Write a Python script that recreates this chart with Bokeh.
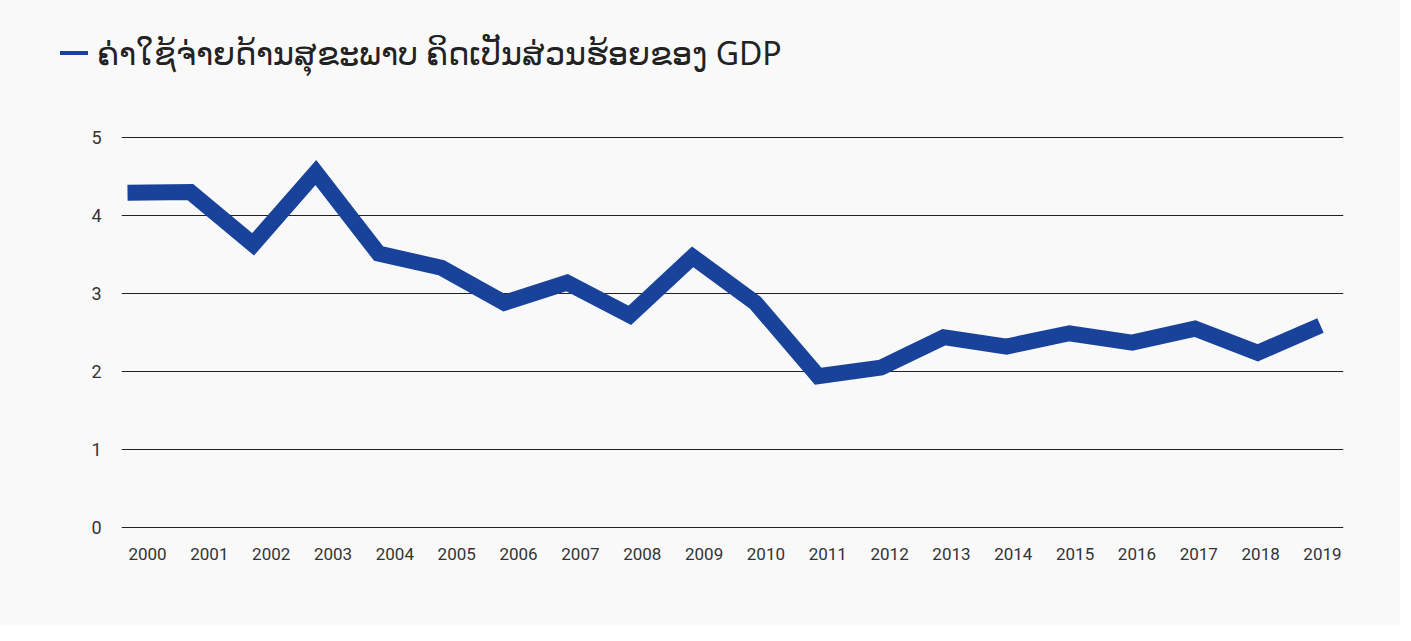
from bokeh.plotting import figure
from bokeh.models import Range1d, LinearAxis, FixedTicker, Div
from bokeh.layouts import column
from bokeh.embed import file_html
from bokeh.resources import INLINE

years = list(range(2000, 2020))
values = [4.29, 4.30, 3.63, 4.55, 3.51, 3.33, 2.88, 3.14, 2.72, 3.47,
          2.88, 1.94, 2.05, 2.44, 2.32, 2.49, 2.37, 2.55, 2.24, 2.59]
y_ticks = [0, 1, 2, 3, 4, 5]
title_text = "ຄ່າໃຊ້ຈ່າຍດ້ານສຸຂະພາບ ຄິດເປັນສ່ວນຮ້ອຍຂອງ GDP"

BLUE = "#19439a"
BG = "#f9f9f9"
HEAD_H = 100
W = 1400

fw = 1221.0
sp_line = (1320 - 128) / 19.0
x0_line = 2000 - (128 - 122) / sp_line
x1_line = x0_line + fw / sp_line
sp_lbl = (1322 - 148) / 19.0
x0_lbl = 2000 - (148 - 122) / sp_lbl
x1_lbl = x0_lbl + fw / sp_lbl

head = Div(
    text=('<div style="white-space:nowrap;line-height:1;">'
          '<span style="display:inline-block;width:28px;height:4px;background:%s;'
          'vertical-align:middle;margin-right:9px;"></span>'
          '<span style="font-family:\'Noto Sans\';font-size:32px;color:#222222;'
          'vertical-align:middle;">%s</span></div>') % (BLUE, title_text),
    width=W, height=HEAD_H, margin=0,
    styles={"background-color": BG, "padding": "37px 0 0 60px", "box-sizing": "border-box"},
)

p = figure(width=W, height=625 - HEAD_H, output_backend="svg", toolbar_location=None,
           x_range=Range1d(x0_line, x1_line), y_range=Range1d(-0.05, 5.05),
           x_axis_location=None, margin=0)
p.min_border_left = 121
p.min_border_right = W - 1343
p.min_border_top = 133 - HEAD_H
p.min_border_bottom = 94
p.background_fill_color = BG
p.border_fill_color = BG
p.outline_line_color = None

p.extra_x_ranges = {"lbl": Range1d(x0_lbl, x1_lbl)}
xax = LinearAxis(x_range_name="lbl", ticker=FixedTicker(ticks=years))
xax.axis_line_color = None
xax.major_tick_line_color = None
xax.minor_tick_line_color = None
xax.major_label_text_font = "Roboto"
xax.major_label_text_font_size = "17px"
xax.major_label_text_color = "#333333"
xax.major_label_standoff = 10
p.add_layout(xax, "below")

p.yaxis.ticker = FixedTicker(ticks=y_ticks)
p.yaxis.axis_line_color = None
p.yaxis.major_tick_line_color = None
p.yaxis.minor_tick_line_color = None
p.yaxis.major_label_text_font = "Roboto"
p.yaxis.major_label_text_font_size = "18px"
p.yaxis.major_label_text_color = "#333333"
p.yaxis.major_label_standoff = 14

p.xgrid.visible = False
p.ygrid.ticker = FixedTicker(ticks=y_ticks)
p.ygrid.grid_line_color = "#222222"
p.ygrid.grid_line_width = 1

p.line(years, values, line_color=BLUE, line_width=16, line_join="miter", line_cap="butt")

layout = column(head, p, spacing=0, margin=0, styles={"background-color": BG})
open("out.html", "w").write(file_html(layout, INLINE))
